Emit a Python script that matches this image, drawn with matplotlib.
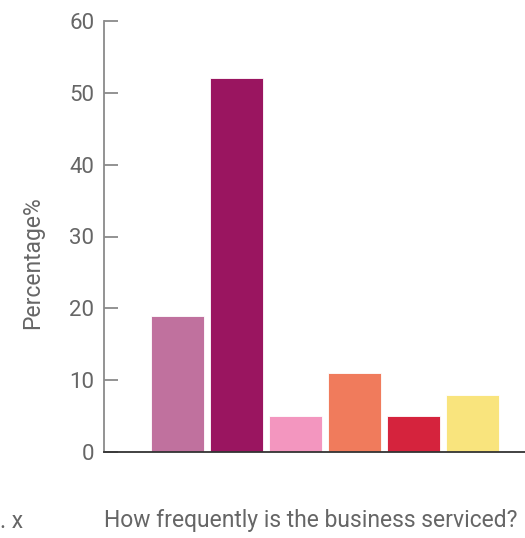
import matplotlib
matplotlib.use("Agg")
import matplotlib.pyplot as plt

categories = ["a", "b", "c", "d", "e", "f"]
values = [19, 52, 5, 11, 5, 8]
colors = ["#c0719e", "#9a1560", "#f396bf", "#f07b5c", "#d5233d", "#f9e47d"]
yticks = [0, 10, 20, 30, 40, 50, 60]

plt.rcParams['font.family'] = ['Roboto', 'DejaVu Sans']
txt = "#666666"

fig = plt.figure(figsize=(5.25, 5.38), dpi=100)
ax = fig.add_axes([104/525, 86/538, 430/525, 431/538])

xs = list(range(len(categories)))
ax.bar(xs, values, width=0.9, color=colors, edgecolor="white", linewidth=0.6)

ax.set_xlim(-1.25, 6.05)
ax.set_ylim(0, 60)
ax.set_yticks(yticks)
ax.set_xticks([])

for s in ["top", "right"]:
    ax.spines[s].set_visible(False)
ax.spines["left"].set_color("#8a8a8a")
ax.spines["left"].set_linewidth(1.3)
ax.spines["bottom"].set_color("#333333")
ax.spines["bottom"].set_linewidth(1.3)

ax.tick_params(axis="y", direction="in", length=10, width=1.3, color="#8a8a8a",
               labelsize=16, labelcolor=txt, pad=7)

fig.text(33/525, 1 - 263/538, "Percentage%", rotation=90, ha="center", va="center",
         fontsize=16.5, color=txt)
fig.text(104/525, 1 - 521/538, "How frequently is the business serviced?", ha="left",
         va="center", fontsize=16.5, color=txt)
fig.text(0, 1 - 521/538, ". x", ha="left", va="center", fontsize=16.5, color=txt)

fig.savefig("out.png", dpi=100)
